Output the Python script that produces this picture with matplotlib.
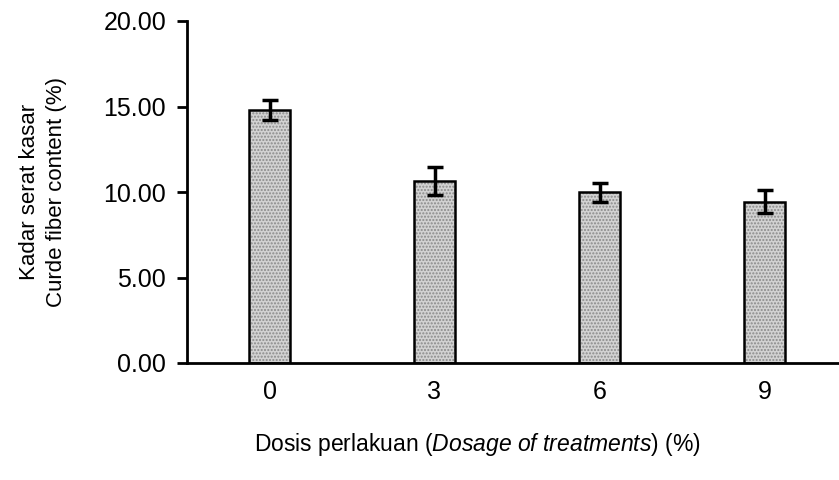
import matplotlib
matplotlib.use("Agg")
import matplotlib.pyplot as plt

# data
doses = ['0', '3', '6', '9']
fiber = [14.80, 10.65, 9.98, 9.42]
fiber_err = [0.60, 0.82, 0.55, 0.67]

plt.rcParams['font.family'] = 'Liberation Sans'
plt.rcParams['mathtext.fontset'] = 'custom'
plt.rcParams['mathtext.rm'] = 'Liberation Sans'
plt.rcParams['mathtext.it'] = 'Liberation Sans:italic'

fig = plt.figure(figsize=(8.39, 4.8), dpi=100)
ax = fig.add_axes([187/839, 117/480, 660/839, 342/480])

x = range(len(doses))
# dotted grey fill, then black outline on top
ax.bar(x, fiber, width=0.25, color='#d2d2d2', edgecolor='#8a8a8a',
       hatch='.....', linewidth=0, zorder=2)
ax.bar(x, fiber, width=0.25, fill=False, edgecolor='black', linewidth=1.8, zorder=3)
ax.errorbar(x, fiber, yerr=fiber_err, fmt='none', ecolor='black',
            elinewidth=2.5, capsize=6, capthick=2.5, zorder=4)

ax.set_xlim(-0.5, 3.5)
ax.set_ylim(0, 20)
ax.set_yticks([0, 5, 10, 15, 20])
ax.set_yticklabels(['%.2f' % v for v in [0, 5, 10, 15, 20]])
ax.set_xticks(list(x))
ax.set_xticklabels(doses)

for s in ['top', 'right']:
    ax.spines[s].set_visible(False)
ax.spines['left'].set_linewidth(2)
ax.spines['bottom'].set_linewidth(2)
ax.tick_params(axis='y', direction='out', length=7, width=2, pad=8, labelsize=18)
ax.tick_params(axis='x', length=0, pad=12, labelsize=18)

ax.set_ylabel('Kadar serat kasar\nCurde fiber content (%)', fontsize=16,
              labelpad=26, linespacing=1.4)
ax.set_xlabel('Dosis perlakuan ($\\it{Dosage\\ of\\ treatments}$) (%)', fontsize=16.5,
              labelpad=20)
ax.xaxis.set_label_coords(0.44, -0.2)

fig.savefig('out.png', dpi=100)
